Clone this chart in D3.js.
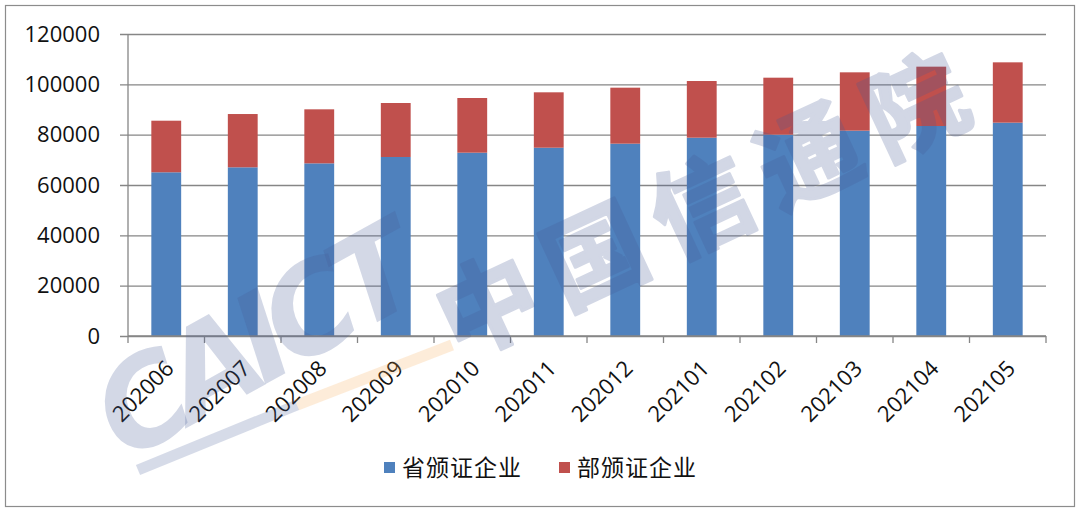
<!DOCTYPE html>
<html><head><meta charset="utf-8">
<script src="https://cdn.jsdelivr.net/npm/d3@7"></script>
<style>body{margin:0;background:#fff}svg{display:block}</style>
</head><body>
<svg id="c" width="1080" height="514"></svg>
<script>
const categories = ["202006","202007","202008","202009","202010","202011","202012","202101","202102","202103","202104","202105"];
const provincial = [65050,67030,68600,71130,72840,74820,76420,78800,80000,81590,83440,84770];
const ministry   = [20500,21170,21470,21450,21730,22010,22250,22520,22640,23180,23580,23970];
const seriesNames = ["省颁证企业","部颁证企业"];
const seriesColors = ["#4F81BD","#C0504D"];
const yTicks = [0,20000,40000,60000,80000,100000,120000];

const svg = d3.select("#c");
const m={left:128,right:1046,top:34,bottom:336};

svg.append("rect").attr("x",5.5).attr("y",5.5).attr("width",1069).attr("height",501)
  .attr("fill","#fff").attr("stroke","#8c8c8c").attr("stroke-width",1.2);

const x = d3.scaleBand().domain(categories).range([m.left,m.right]).paddingInner(0.61).paddingOuter(0.305);
const y = d3.scaleLinear().domain([0,120000]).range([m.bottom,m.top]);

// gridlines + y labels
const ga = svg.append("g").attr("transform",`translate(${m.left},0)`)
  .call(d3.axisLeft(y).tickValues(yTicks).tickSize(-(m.right-m.left)).tickSizeOuter(0).tickFormat(d=>d).tickPadding(28));
ga.select(".domain").remove();
ga.selectAll(".tick line").attr("stroke","#868686").attr("stroke-width",1.3).attr("x1",-8);
ga.selectAll(".tick text").attr("font-family","Open Sans, sans-serif").attr("font-size",22).attr("fill","#111");
svg.append("line").attr("x1",m.left).attr("x2",m.left).attr("y1",m.top).attr("y2",m.bottom).attr("stroke","#868686").attr("stroke-width",1.3);

// stacked bars
const data = categories.map((c,i)=>({cat:c, a:provincial[i], b:ministry[i]}));
const stack = d3.stack().keys(["a","b"])(data);
stack.forEach((s,si)=>{
  svg.append("g").selectAll("rect").data(s).join("rect")
    .attr("x",d=>x(d.data.cat)).attr("width",x.bandwidth())
    .attr("y",d=>y(d[1])).attr("height",d=>y(d[0])-y(d[1]))
    .attr("fill",seriesColors[si]);
});

// x axis
const step = (m.right-m.left)/categories.length;
const xa = svg.append("g").attr("transform",`translate(0,${m.bottom})`);
xa.append("line").attr("x1",m.left).attr("x2",m.right).attr("stroke","#868686").attr("stroke-width",1.3);
d3.range(categories.length+1).forEach(i=>{
  xa.append("line").attr("x1",m.left+i*step).attr("x2",m.left+i*step).attr("y1",0).attr("y2",7).attr("stroke","#868686").attr("stroke-width",1.3);
});
xa.selectAll("text.xl").data(categories).join("text").attr("class","xl")
  .attr("transform",d=>`translate(${x(d)+x.bandwidth()/2-2},${23}) rotate(-45)`)
  .attr("text-anchor","end").attr("dy","0.7em")
  .attr("font-family","Open Sans, sans-serif").attr("font-size",22).attr("fill","#111")
  .text(d=>d);

// watermark
const wm = svg.append("g").attr("pointer-events","none");
wm.append("line").attr("x1",138).attr("y1",470).attr("x2",297).attr("y2",405)
  .attr("stroke","rgba(70,90,150,0.22)").attr("stroke-width",11);
wm.append("line").attr("x1",297).attr("y1",405).attr("x2",452).attr("y2",345)
  .attr("stroke","rgba(245,170,80,0.22)").attr("stroke-width",11);
wm.append("text").attr("transform","translate(125,462) rotate(-29)")
  .attr("font-family","DejaVu Sans, sans-serif").attr("font-weight","bold").attr("font-style","italic")
  .attr("font-size",122).attr("fill","rgba(70,90,150,0.24)").attr("textLength",350).text("CAICT");
wm.append("g").attr("opacity",0.24).append("text").attr("transform","translate(458,360) rotate(-25)")
  .attr("font-family","Noto Sans CJK SC, sans-serif").attr("font-weight","bold")
  .attr("font-size",100).attr("letter-spacing",18)
  .attr("fill","rgb(70,90,150)").attr("stroke","rgb(70,90,150)").attr("stroke-width",3).attr("stroke-linejoin","round")
  .text("中国信通院");

// legend
const leg = svg.append("g");
const lx=[384,559];
seriesNames.forEach((n,i)=>{
  leg.append("rect").attr("x",lx[i]).attr("y",462).attr("width",11).attr("height",11).attr("fill",seriesColors[i]);
  leg.append("text").attr("x",lx[i]+18).attr("y",476).attr("font-family","Noto Sans CJK SC, sans-serif")
    .attr("font-size",23).attr("fill","#111").attr("letter-spacing",1).text(n);
});
</script>
</body></html>
